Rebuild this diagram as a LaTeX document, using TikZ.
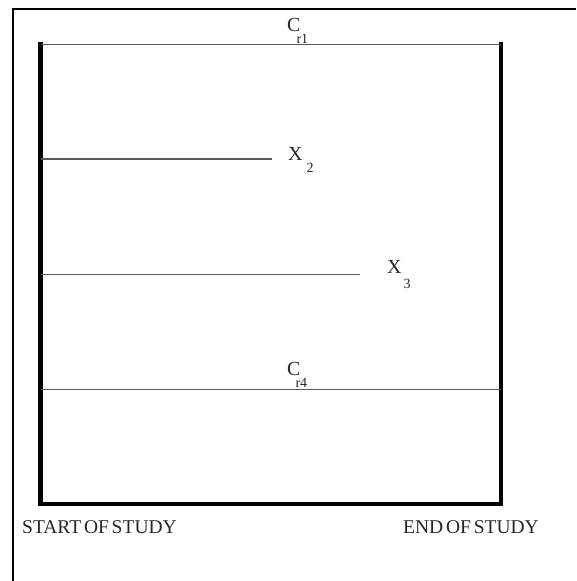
\documentclass[tikz,border=0pt]{standalone}
\usepackage{fontspec}
\setmainfont{Liberation Serif}
\usepackage{tikz}
\usetikzlibrary{positioning, calc}

\newcommand{\subsz}{\fontsize{14}{14}\selectfont}
\newcommand{\lowsub}[2]{\kern#1\raisebox{-12pt}{\subsz #2}}
\newcommand{\tightsp}{\spaceskip=2.8pt\relax}

\begin{document}
\begin{tikzpicture}[x=1pt, y=-1pt,
                outer/.style={draw=black, line width=1.8pt},
                frame/.style={draw=black, line width=4.5pt, line join=miter},
                track/.style={draw=black!65, line width=1.4pt},
                lbl/.style={inner sep=0pt, anchor=base west, text=black!85, font=\fontsize{20}{20}\selectfont},
                foot/.style={inner sep=0pt, text=black!85, font=\fontsize{19.5}{20}\selectfont\tightsp}
            ]
            \useasboundingbox (0,0) rectangle (576,581);

            % Rahmen
            \coordinate (ob) at (13,581);
            \coordinate (ot) at (13,9);
            \coordinate (or) at (576,9);
            \draw[outer] (ob) -- (ot) -- (or);

            \coordinate (tl) at (40.5,42);
            \coordinate (bl) at (40.5,504);
            \coordinate (br) at (501,504);
            \coordinate (tr) at (501,42);
            \draw[frame] (tl) -- (bl) -- (br) -- (tr);

            % Linien
            \coordinate (s1) at (40.5,44.5);  \coordinate (e1) at (501,44.5);
            \coordinate (s2) at (40.5,159);   \coordinate (e2) at (272,159);
            \coordinate (s3) at (40.5,274.5); \coordinate (e3) at (360,274.5);
            \coordinate (s4) at (40.5,389.5); \coordinate (e4) at (501,389.5);
            \draw[track] (s1) -- (e1);
            \draw[track] (s2) -- (e2);
            \draw[track] (s3) -- (e3);
            \draw[track] (s4) -- (e4);

            % Beschriftungen
            \node[lbl] (cr1) at (287,31) {C\lowsub{-4pt}{r1}};
            \node[lbl] (x2) at (288,160) {X\lowsub{4pt}{2}};
            \node[lbl] (x3) at (387,273) {X\lowsub{2pt}{\raisebox{-3pt}{3}}};
            \node[lbl] (cr4) at (287,375) {C\lowsub{-5pt}{r4}};

            \node[foot, anchor=base west] (start) at (22,533) {START OF STUDY};
            \node[foot, anchor=base east] (end) at (539,533) {END OF STUDY};

        \end{tikzpicture}
\end{document}
